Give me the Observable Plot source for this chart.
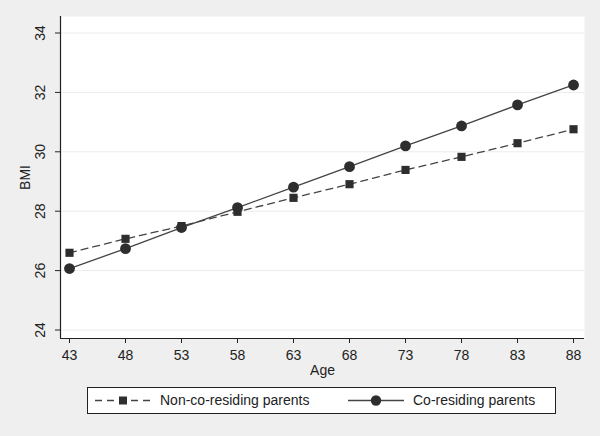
<!DOCTYPE html>
<html>
<head>
<meta charset="utf-8">
<script src="https://cdn.jsdelivr.net/npm/d3@7"></script>
<script src="https://cdn.jsdelivr.net/npm/@observablehq/plot@0.6"></script>
<style>
  html, body { margin: 0; padding: 0; background: #efefef; }
  #wrap { position: relative; width: 600px; height: 436px; background: #efefef; font-family: "Liberation Sans", Arial, sans-serif; }
  #chart svg { display: block; }
  #legend { position: absolute; left: 87px; top: 387px; width: 467px; height: 25px; border: 1px solid #222; background: #fff; }
</style>
</head>
<body>
<div id="wrap"><div id="chart"></div><div id="legend"></div></div>
<script>
const ages = [43, 48, 53, 58, 63, 68, 73, 78, 83, 88];
const nonCoResiding = [26.60, 27.07, 27.50, 27.98, 28.45, 28.91, 29.39, 29.83, 30.29, 30.76];
const coResiding = [26.07, 26.74, 27.45, 28.12, 28.81, 29.50, 30.20, 30.87, 31.58, 32.25];
const seriesNames = ["Non-co-residing parents", "Co-residing parents"];
const yTicks = [24, 26, 28, 30, 32, 34];
const xDomain = [42.196, 88.98];
const yDomain = [23.714, 34.556];

const rows = [];
ages.forEach((a, i) => {
  rows.push({age: a, bmi: nonCoResiding[i], series: seriesNames[0]});
  rows.push({age: a, bmi: coResiding[i], series: seriesNames[1]});
});
const nonRows = rows.filter(d => d.series === seriesNames[0]);
const coRows = rows.filter(d => d.series === seriesNames[1]);

const ink = "#2e2e2e";
const lineInk = "#444";

const chart = Plot.plot({
  width: 600,
  height: 436,
  marginLeft: 60,
  marginRight: 16,
  marginTop: 16,
  marginBottom: 98,
  style: {background: "transparent", fontFamily: "'Liberation Sans', Arial, sans-serif", color: "#222"},
  x: {domain: xDomain, label: null},
  y: {domain: yDomain, label: null},
  marks: [
    Plot.frame({fill: "#fff", stroke: null}),
    Plot.gridY(yTicks, {stroke: "#ececec", strokeOpacity: 1, strokeWidth: 1}),
    Plot.ruleX([xDomain[0]], {stroke: "#222", strokeWidth: 1.2}),
    Plot.ruleY([yDomain[0]], {stroke: "#222", strokeWidth: 1.2}),
    Plot.axisY({ticks: yTicks, tickSize: 5, tickFormat: () => "", stroke: "#222", label: null}),
    Plot.text(yTicks, {y: d => d, frameAnchor: "left", dx: -20, rotate: -90, text: d => String(d), fontSize: 14, textAnchor: "middle", lineAnchor: "middle", fill: "#222"}),
    Plot.axisX({ticks: ages, tickSize: 5, tickPadding: 7, fontSize: 14, tickFormat: d => String(d), stroke: "#222", fill: "#222", label: null}),
    Plot.text(["Age"], {frameAnchor: "bottom", dy: 32, text: d => d, fontSize: 14, textAnchor: "middle", lineAnchor: "middle", fill: "#222"}),
    Plot.text(["BMI"], {frameAnchor: "left", dx: -35, rotate: -90, text: d => d, fontSize: 14, textAnchor: "middle", lineAnchor: "middle", fill: "#222"}),
    Plot.line(nonRows, {x: "age", y: "bmi", stroke: lineInk, strokeWidth: 1.3, strokeDasharray: "7,5"}),
    Plot.line(coRows, {x: "age", y: "bmi", stroke: lineInk, strokeWidth: 1.3}),
    Plot.dot(nonRows, {x: "age", y: "bmi", symbol: "square", r: 4.6, fill: ink, stroke: null}),
    Plot.dot(coRows, {x: "age", y: "bmi", symbol: "circle", r: 5.4, fill: ink, stroke: null})
  ]
});
document.getElementById("chart").appendChild(chart);

// Legend
const lg = d3.select("#legend").append("svg").attr("width", 467).attr("height", 25)
  .style("display", "block").style("font-family", "'Liberation Sans', Arial, sans-serif");
const items = [
  {name: seriesNames[0], x0: 7, x1: 63, dash: "7,5", sym: "square", tx: 72},
  {name: seriesNames[1], x0: 260, x1: 316, dash: null, sym: "circle", tx: 325}
];
items.forEach(it => {
  const cy = 12.5;
  const ln = lg.append("line").attr("x1", it.x0).attr("x2", it.x1).attr("y1", cy).attr("y2", cy)
    .attr("stroke", lineInk).attr("stroke-width", 1.3);
  if (it.dash) ln.attr("stroke-dasharray", it.dash);
  const cx = (it.x0 + it.x1) / 2;
  if (it.sym === "square") {
    lg.append("rect").attr("x", cx - 4).attr("y", cy - 4).attr("width", 8).attr("height", 8).attr("fill", ink);
  } else {
    lg.append("circle").attr("cx", cx).attr("cy", cy).attr("r", 5.2).attr("fill", ink);
  }
  lg.append("text").attr("x", it.tx).attr("y", cy).attr("dy", "0.35em").attr("font-size", 14)
    .attr("fill", "#222").text(it.name);
});
</script>
</body>
</html>
